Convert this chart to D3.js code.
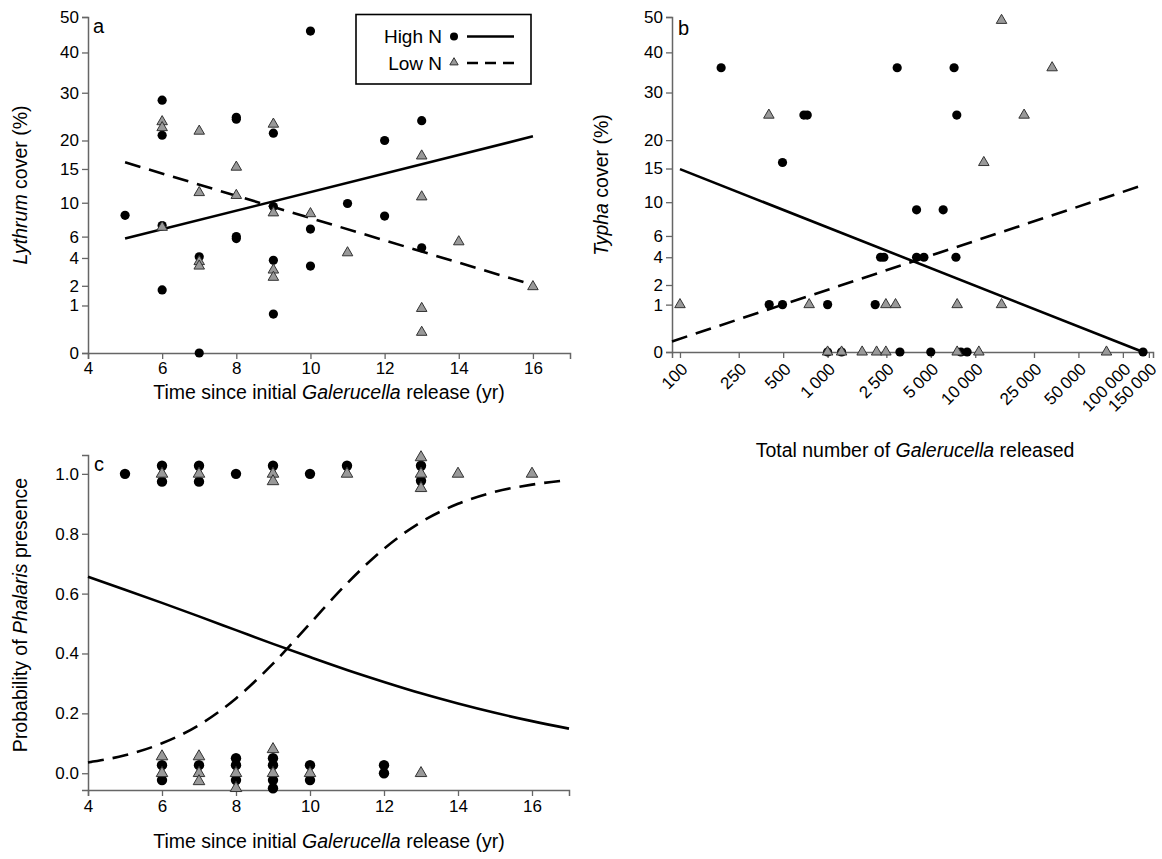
<!DOCTYPE html>
<html><head><meta charset="utf-8">
<script src="https://cdn.jsdelivr.net/npm/d3@7"></script>
<style>body{margin:0;background:#fff}svg{font-family:"Liberation Sans",Arial,Helvetica,sans-serif}</style>
</head><body>
<svg id="chart" width="1162" height="859"></svg>
<script>
// ---------- Data ----------
// Panel a: Lythrum cover (%) vs time since release (yr)
const aHighX = [5,6,6,6,6,7,7,8,8,8,8,9,9,9,9,10,10,10,11,12,12,13,13];
const aHighY = [8.4,28.3,21.0,7.2,1.76,4.1,0,24.6,24.2,6.0,5.8,21.4,9.5,3.8,0.67,45.9,6.8,3.35,9.9,20,8.3,23.9,4.9];
const aLowX = [6,6,6,7,7,7,7,8,8,9,9,9,9,10,11,13,13,13,13,14,16];
const aLowY = [23.7,22.5,7.0,21.8,11.4,3.7,3.35,15.3,11.0,23.2,8.7,3.05,2.54,8.6,4.45,17.2,10.8,0.88,0.19,5.48,1.95];
const aFitX = [5,16];
const aFitHigh = [5.8,20.8];
const aFitLow = [16.1,2.05];
const coverTicks = [0,1,2,4,6,10,15,20,30,40,50];
const timeTicks = [4,6,8,10,12,14,16];

// Panel b: Typha cover (%) vs total number released
const bHighX = [190,691,728,495,2960,7190,7500,4005,6065,2284,2404,4005,4490,7400,402,495,1000,2100,3090,5000,7990,8810,137000,1000,1244];
const bHighY = [36,25,25,16,36,36,25,9,9,4,4,4,4,4,1,1,1,1,0,0,0,0,0,0,0];
const bLowX = [15070,33170,21430,11430,400,100,750,2481,2885,7543,15070,1000,1244,1714,2147,2481,7543,10580,77450];
const bLowY = [49,36,25,16,25,1,1,1,1,1,1,0,0,0,0,0,0,0,0];
const bFitHighX = [100,137000];
const bFitHigh = [14.9,0];
const bFitLowX = [88.3,137000];
const bFitLow = [0.05,12.4];
const numTicks = [100,250,500,1000,2500,5000,10000,25000,50000,100000,150000];
const numTickLabels = ["100","250","500","1\u2009000","2\u2009500","5\u2009000","10\u2009000","25\u2009000","50\u2009000","100\u2009000","150\u2009000"];

// Panel c: probability of Phalaris presence
const cHighX = [5,6,6,7,7,8,9,10,11,13,13, 6,6,7,8,8,8,9,9,9,9,10,10,12,12];
const cHighY = [1.0,1.027,0.974,1.027,0.974,1.0,1.027,1.0,1.027,1.027,0.977, 0.027,-0.023,0.027,0.05,0.027,-0.023,0.05,0.027,-0.023,-0.05,0.027,-0.023,0.027,0.0];
const cLowX = [6,7,9,9,11,13,13,13,14,16, 6,6,7,7,7,8,8,9,9,10,13];
const cLowY = [1.0,1.0,1.0,0.975,1.0,1.055,1.0,0.952,1.0,1.0, 0.056,0.0,0.056,0.0,-0.027,0.0,-0.05,0.08,0.0,0.0,0.0];
const cCurveX = [4,5,6,7,8,9,10,11,12,13,14,15,16,17];
const cCurveHigh = [0.656,0.613,0.569,0.524,0.478,0.432,0.388,0.345,0.305,0.267,0.233,0.202,0.174,0.149];
const cCurveLow = [0.036,0.060,0.100,0.161,0.250,0.366,0.500,0.634,0.750,0.839,0.900,0.940,0.964,0.979];
const probTicks = [0.0,0.2,0.4,0.6,0.8,1.0];

// ---------- Drawing ----------
const svg = d3.select("#chart");
const AX = "#666";
const TICKFS = 17, TITLEFS = 19.5;

function styleAxis(g){
  g.select(".domain").attr("stroke",AX).attr("stroke-width",1.5);
  g.selectAll(".tick line").attr("stroke",AX).attr("stroke-width",1.3);
  g.selectAll(".tick text").attr("fill","#000").attr("font-size",TICKFS).attr("font-family","Liberation Sans, Arial, sans-serif");
}
function circles(g, xs, ys, x, y, r){
  g.selectAll(null).data(xs.map((v,i)=>[v,ys[i]])).join("circle")
   .attr("cx",d=>x(d[0])).attr("cy",d=>y(d[1])).attr("r",r).attr("fill","#000");
}
function triangles(g, xs, ys, x, y, size){
  const sym = d3.symbol(d3.symbolTriangle, size);
  g.selectAll(null).data(xs.map((v,i)=>[v,ys[i]])).join("path")
   .attr("d",sym).attr("transform",d=>`translate(${x(d[0])},${y(d[1])})`)
   .attr("fill","#999").attr("stroke","#333").attr("stroke-width",1);
}
function fitLine(g, xs, ys, x, y, dashed, curve){
  const line = d3.line().x(d=>x(d[0])).y(d=>y(d[1])).curve(curve||d3.curveLinear);
  g.append("path").datum(xs.map((v,i)=>[v,ys[i]])).attr("d",line)
   .attr("fill","none").attr("stroke","#000").attr("stroke-width",2.6)
   .attr("stroke-dasharray",dashed?"16,9":null);
}

// ----- Panel a -----
{
  const x = d3.scaleLinear().domain([4,17]).range([88,570]);
  const y = d3.scaleSqrt().domain([0,50]).range([353,17]);
  const g = svg.append("g");
  g.append("g").attr("transform","translate(0,353)")
    .call(d3.axisBottom(x).tickValues(timeTicks).tickSize(6).tickPadding(3)).call(styleAxis);
  g.append("g").attr("transform","translate(88,0)")
    .call(d3.axisLeft(y).tickValues(coverTicks).tickSize(6).tickPadding(3)).call(styleAxis);
  fitLine(g, aFitX, aFitHigh, x, y, false);
  fitLine(g, aFitX, aFitLow, x, y, true);
  circles(g, aHighX, aHighY, x, y, 4.6);
  triangles(g, aLowX, aLowY, x, y, 48);
  svg.append("text").attr("x",93).attr("y",33).attr("font-size",20).text("a");
  const xt = svg.append("text").attr("x",329).attr("y",399).attr("text-anchor","middle").attr("font-size",TITLEFS);
  xt.append("tspan").text("Time since initial ");
  xt.append("tspan").attr("font-style","italic").text("Galerucella");
  xt.append("tspan").text(" release (yr)");
  const yt = svg.append("text").attr("transform","translate(27,185) rotate(-90)").attr("text-anchor","middle").attr("font-size",TITLEFS);
  yt.append("tspan").attr("font-style","italic").text("Lythrum");
  yt.append("tspan").text(" cover (%)");
  // legend
  const L = svg.append("g");
  L.append("rect").attr("x",356).attr("y",14.5).attr("width",175).attr("height",69.5)
    .attr("fill","#fff").attr("stroke","#000").attr("stroke-width",1.6);
  L.append("text").attr("x",442).attr("y",43).attr("text-anchor","end").attr("font-size",19).text("High N");
  L.append("text").attr("x",442).attr("y",70).attr("text-anchor","end").attr("font-size",19).text("Low N");
  L.append("circle").attr("cx",454).attr("cy",36.5).attr("r",4).attr("fill","#000");
  L.append("path").attr("d",d3.symbol(d3.symbolTriangle,30)).attr("transform","translate(454,62.5)")
    .attr("fill","#999").attr("stroke","#333").attr("stroke-width",1);
  L.append("line").attr("x1",467).attr("x2",514).attr("y1",36.5).attr("y2",36.5).attr("stroke","#000").attr("stroke-width",2.6);
  L.append("line").attr("x1",467).attr("x2",514).attr("y1",63).attr("y2",63).attr("stroke","#000").attr("stroke-width",2.6).attr("stroke-dasharray","11,7");
}

// ----- Panel b -----
{
  const x = d3.scaleLog().domain([88.3,160000]).range([672,1153]);
  const y = d3.scaleSqrt().domain([0,50]).range([352,17]);
  const g = svg.append("g");
  const xa = g.append("g").attr("transform","translate(0,352)")
    .call(d3.axisBottom(x).tickValues(numTicks).tickFormat((d,i)=>numTickLabels[i]).tickSize(6)).call(styleAxis);
  xa.selectAll(".tick text").attr("text-anchor","end").attr("dy","0.35em")
    .attr("transform","translate(4,14) rotate(-45)").attr("y",0).attr("x",0);
  g.append("g").attr("transform","translate(672,0)")
    .call(d3.axisLeft(y).tickValues(coverTicks).tickSize(6).tickPadding(3)).call(styleAxis);
  fitLine(g, bFitHighX, bFitHigh, x, y, false);
  fitLine(g, bFitLowX, bFitLow, x, y, true);
  circles(g, bHighX, bHighY, x, y, 4.6);
  triangles(g, bLowX, bLowY, x, y, 48);
  svg.append("text").attr("x",678).attr("y",35).attr("font-size",20).text("b");
  const xt = svg.append("text").attr("x",915).attr("y",457).attr("text-anchor","middle").attr("font-size",TITLEFS);
  xt.append("tspan").text("Total number of ");
  xt.append("tspan").attr("font-style","italic").text("Galerucella");
  xt.append("tspan").text(" released");
  const yt = svg.append("text").attr("transform","translate(608,185) rotate(-90)").attr("text-anchor","middle").attr("font-size",TITLEFS);
  yt.append("tspan").attr("font-style","italic").text("Typha");
  yt.append("tspan").text(" cover (%)");
}

// ----- Panel c -----
{
  const x = d3.scaleLinear().domain([4,17]).range([88,569]);
  const y = d3.scaleLinear().domain([-0.056,1.063]).range([790,455]);
  const g = svg.append("g");
  g.append("g").attr("transform","translate(0,790)")
    .call(d3.axisBottom(x).tickValues(timeTicks).tickSize(6).tickPadding(4)).call(styleAxis);
  g.append("g").attr("transform","translate(88,0)")
    .call(d3.axisLeft(y).tickValues(probTicks).tickFormat(d3.format(".1f")).tickSize(6).tickPadding(3)).call(styleAxis);
  fitLine(g, cCurveX, cCurveHigh, x, y, false, d3.curveMonotoneX);
  fitLine(g, cCurveX, cCurveLow, x, y, true, d3.curveMonotoneX);
  circles(g, cHighX, cHighY, x, y, 5.2);
  triangles(g, cLowX, cLowY, x, y, 58);
  svg.append("text").attr("x",94).attr("y",471).attr("font-size",20).text("c");
  const xt = svg.append("text").attr("x",329).attr("y",848).attr("text-anchor","middle").attr("font-size",TITLEFS);
  xt.append("tspan").text("Time since initial ");
  xt.append("tspan").attr("font-style","italic").text("Galerucella");
  xt.append("tspan").text(" release (yr)");
  const yt = svg.append("text").attr("transform","translate(27,615) rotate(-90)").attr("text-anchor","middle").attr("font-size",TITLEFS);
  yt.append("tspan").text("Probability of ");
  yt.append("tspan").attr("font-style","italic").text("Phalaris");
  yt.append("tspan").text(" presence");
}
</script>
</body></html>
